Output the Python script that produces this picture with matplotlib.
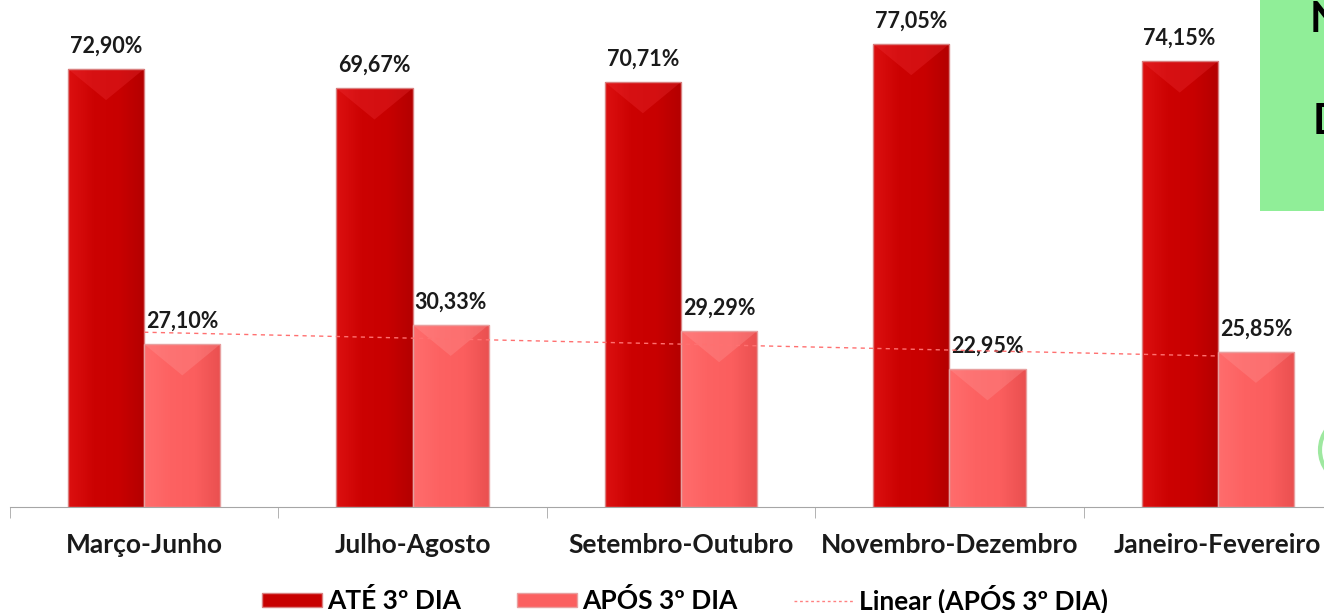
import numpy as np
import matplotlib.pyplot as plt
from matplotlib.colors import LinearSegmentedColormap
from matplotlib.patches import Patch, Polygon, Rectangle, Ellipse
from matplotlib.lines import Line2D

plt.rcParams['font.family'] = ['Lato', 'DejaVu Sans']

periodos = ['Março-Junho', 'Julho-Agosto', 'Setembro-Outubro', 'Novembro-Dezembro', 'Janeiro-Fevereiro']
ate_3dia = [72.90, 69.67, 70.71, 77.05, 74.15]
apos_3dia = [27.10, 30.33, 29.29, 22.95, 25.85]
legenda = ['ATÉ 3º DIA', 'APÓS 3º DIA', 'Linear (APÓS 3º DIA)']

fig = plt.figure(figsize=(13.24, 6.13), dpi=100)
W, H = 1324, 613
# plot area runs past the right edge, like the cropped original
ax = fig.add_axes([10 / W, 106 / H, 1342 / W, 507 / H])

x = np.arange(len(periodos))
bw = 0.284

dark_cmap = LinearSegmentedColormap.from_list('d', ['#dc1010', '#cc0202', '#c80000', '#b40000'])
light_cmap = LinearSegmentedColormap.from_list('l', ['#ff6d6d', '#fd6262', '#fb5e5e', '#ea5050'])
grad = np.linspace(0, 1, 64).reshape(1, -1)


def draw_bars(xs, vals, cmap, top_col, edge):
    for xc, v in zip(xs, vals):
        x0 = xc - bw / 2
        rect = Rectangle((x0, 0), bw, v, facecolor='none', edgecolor=edge, lw=1, zorder=3)
        ax.add_patch(rect)
        im = ax.imshow(grad, cmap=cmap, aspect='auto', extent=(x0, x0 + bw, 0, v), zorder=2)
        im.set_clip_path(rect)
        # soft bevel on top of the bar
        tri = Polygon([(x0, v), (x0 + bw, v), (x0 + bw / 2, v - 5.2)], closed=True,
                      facecolor=top_col, edgecolor='none', alpha=0.3, zorder=2.5)
        ax.add_patch(tri)


draw_bars(x - bw / 2, ate_3dia, dark_cmap, '#f0333a', '#d98080')
draw_bars(x + bw / 2, apos_3dia, light_cmap, '#ff9a9a', '#e8a0a0')
ax.set_xlim(-0.5, 4.5)
ax.set_ylim(0, 507 / 6.01)

# linear trendline for the second series
coef = np.polyfit(x, apos_3dia, 1)
ax.plot(x, np.polyval(coef, x), color='#ff7070', lw=1, ls=(0, (3, 3)), zorder=4)

fmt = lambda v: f'{v:.2f}'.replace('.', ',') + '%'
for xc, a, b in zip(x, ate_3dia, apos_3dia):
    ax.annotate(fmt(a), (xc - bw / 2, a), xytext=(0, 16.5), textcoords='offset points',
                ha='center', va='center', fontsize=15.5, fontweight='bold', color='#1a1a1a')
    ax.annotate(fmt(b), (xc + bw / 2, b), xytext=(0, 16.5), textcoords='offset points',
                ha='center', va='center', fontsize=15.5, fontweight='bold', color='#1a1a1a')

for s in ['left', 'top', 'right']:
    ax.spines[s].set_visible(False)
ax.spines['bottom'].set_color('#a6a6a6')
ax.set_yticks([])
ax.set_xticks(x)
ax.set_xticklabels(periodos, fontsize=19, fontweight='bold', color='#1a1a1a')
ax.tick_params(axis='x', which='major', length=0, pad=19)
ax.set_xticks(np.arange(-0.5, 5, 1), minor=True)
ax.tick_params(axis='x', which='minor', length=8, color='#a6a6a6', direction='out')

handles = [Patch(facecolor='#c80000', edgecolor='#d98080'),
           Patch(facecolor='#fb6060', edgecolor='#e8a0a0'),
           Line2D([0], [0], color='#ff8080', lw=1, ls=(0, (2, 2)))]
fig.legend(handles, legenda, loc='center', bbox_to_anchor=(685 / W, 1 - 599 / H), ncol=3,
           frameon=False, prop={'size': 19, 'weight': 'bold'}, handlelength=2.27,
           handleheight=0.49, handletextpad=0.19, columnspacing=2.12, borderpad=0)

# green note box at the top right, cut by the edge
fig.patches.append(Rectangle((1260 / W, 1 - 211 / H), 80 / W, 211 / H, transform=fig.transFigure,
                             facecolor='#90ee98', edgecolor='none', zorder=0))
fig.text(1310 / W, 1 - 20 / H, 'N', fontsize=30, fontweight='bold', va='center', ha='left')
fig.text(1313 / W, 1 - 122 / H, 'D', fontsize=30, fontweight='bold', va='center', ha='left')
fig.patches.append(Ellipse((1345 / W, 1 - 450 / H), 50 / W, 60 / H, transform=fig.transFigure,
                           facecolor='none', edgecolor='#9ee8a0', lw=3))

fig.savefig('out.png', dpi=100)
